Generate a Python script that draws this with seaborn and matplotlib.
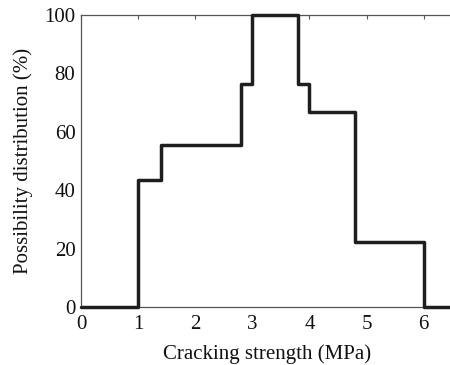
import matplotlib
matplotlib.use("Agg")
import matplotlib.pyplot as plt
import seaborn as sns
import pandas as pd

# data: step edges (MPa) and possibility level (%) starting at each edge
strength = [0, 1.0, 1.4, 2.8, 3.0, 3.8, 4.0, 4.8, 6.0, 6.5]
possibility = [0, 43.5, 55.6, 76.2, 100, 76.2, 66.7, 22.2, 0, 0]
xticks = [0, 1, 2, 3, 4, 5, 6]
yticks = [0, 20, 40, 60, 80, 100]

sns.set_theme(style="white")
plt.rcParams["font.family"] = ["Liberation Serif", "DejaVu Serif"]

fig = plt.figure(figsize=(4.5, 3.65), dpi=100)
ax = fig.add_axes([0.18, 0.159, 0.825, 0.800])

df = pd.DataFrame({"x": strength, "y": possibility})
sns.lineplot(data=df, x="x", y="y", ax=ax, drawstyle="steps-post",
             color="#1e1e1e", linewidth=2.5, clip_on=False, zorder=5)

ax.set_xlim(0, 6.5)
ax.set_ylim(0, 100)
ax.set_xticks(xticks)
ax.set_yticks(yticks)
ax.tick_params(axis="both", direction="in", length=3, width=0.8, color="#555555",
               labelsize=15, top=True, right=False, labelcolor="#111111")
ax.tick_params(axis="x", pad=6)
ax.tick_params(axis="y", pad=4)
for s in ax.spines.values():
    s.set_color("#555555")
    s.set_linewidth(0.9)
ax.set_xlabel("Cracking strength (MPa)", fontsize=15, labelpad=7, color="#111111")
ax.set_ylabel("Possibility distribution (%)", fontsize=15, labelpad=8, color="#111111")

fig.savefig("out.png", dpi=100)
